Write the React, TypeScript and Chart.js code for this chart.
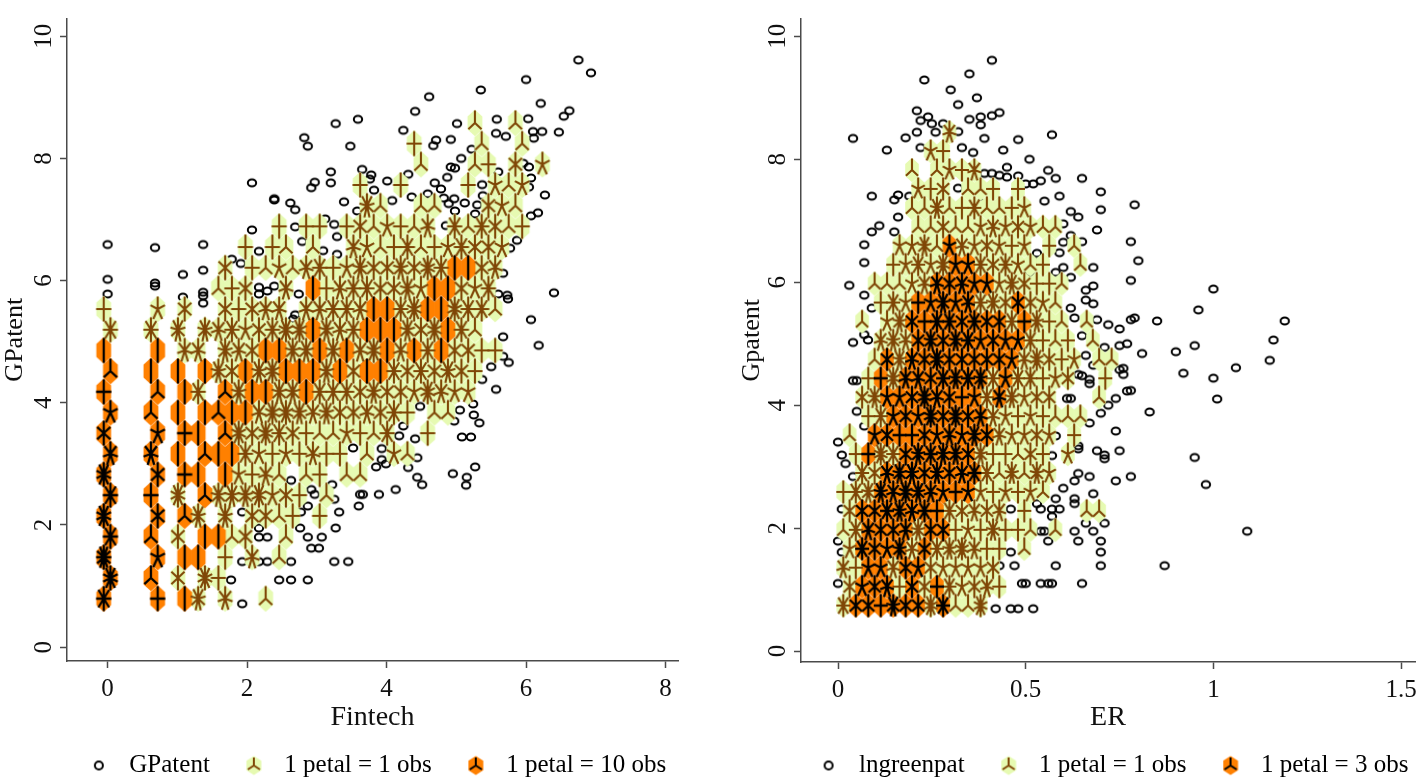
import React, { useEffect, useRef } from "react";
import { Chart, registerables } from "chart.js";

Chart.register(...registerables);

// ---------- left panel data ----------
const leftTitleX = "Fintech";
const leftTitleY = "GPatent";
const leftTicksX = [0, 2, 4, 6, 8];
const leftTicksY = [0, 2, 4, 6, 8, 10];
const leftLegend = ["GPatent", "1 petal = 1 obs", "1 petal = 10 obs"];
// bin grid of the sunflower plot: [x of first even-row cell, x of first odd-row cell, cell step, y of first row, row step]
const leftBins = [-0.056, 0.0401, 0.19355, 0.795, 0.3385];
// one row per bin row: [first cell index, petals per cell...]; negative = dark flower, 0 = no flower
const leftRows = [
  [0, -8, 0, 0, 0, -4, 0, -2, 9, 0, 7, 0, 0, 3],
  [0, -10, 0, 0, -3, 0, 6, 0, 10, 4],
  [0, -12, 0, 0, 0, -5, 0, -2, -2, 0, 4, 0, 7, 0, 3],
  [0, -8, 0, 0, -3, 0, 6, 0, -2, -2, 3, 6, 0, 0, 3],
  [0, -10, 0, 0, 0, -6, 0, -3, 9, 0, 9, 0, 6, 6, 3, 4, 0, 4],
  [0, -8, 0, 0, -4, 0, 10, 0, -3, 9, 9, 9, 10, 5, 6, 4, 0, 3],
  [0, -10, 0, 0, 0, -6, 0, -4, -2, 0, -2, 5, 4, 7, 3, 0, 3, 4, 0, 3, 3],
  [0, -7, 0, 0, -7, 0, -2, 0, -3, -2, -2, 8, 5, 4, 5, 4, 7, 4, 4, 0, 3, 0, 5, 3],
  [0, -6, 0, 0, 0, -5, 0, -4, -2, 0, -3, 10, 6, 10, 8, 6, 4, 3, 3, 5, 4, 3, 8, 0, 0, 4],
  [0, -5, 0, 0, -3, 0, -2, 0, -2, -3, -2, -2, 7, 10, 10, 9, 7, 9, 6, 6, 7, 6, 8, 4, 0, 3, 3],
  [0, -4, 0, 0, 0, -3, 0, -2, 8, 0, -3, 9, -2, -2, 9, 9, -2, 8, 8, 8, 6, 9, 6, 6, 5, 10, 7, 5, 5],
  [0, -3, 0, 0, -2, 0, -2, 0, -2, 9, 6, -2, 9, 10, -2, -2, -2, 9, -2, 6, -2, -2, 8, 6, 8, 6, 9, 6, 4],
  [0, -2, 0, 0, 0, -2, 0, 7, 7, 0, 9, 7, 6, -2, -2, 9, 9, -2, 9, -2, 7, 10, -2, 7, -2, 8, -2, 6, 6, 4, 4],
  [0, 8, 0, 0, 8, 0, 9, 0, 9, 7, 8, 5, 6, 8, 10, 10, -2, 9, 7, 8, -2, -2, -2, 9, 6, 10, -2, 8, 3],
  [0, 4, 0, 0, 0, 5, 0, 6, 0, 0, 6, 4, 6, 7, 7, 0, 7, 7, 8, 8, 7, -2, -2, 8, 10, -2, -2, 10, 8, 8, 3],
  [8, 3, 4, 6, 0, 0, 7, 0, -2, 4, 7, 8, 8, 6, 6, 9, 5, -2, -2, 6, 5, 8],
  [9, 6, 0, 4, 3, 5, 3, 7, 8, 4, 5, 9, 6, 6, 9, 6, 10, 8, -2, -2, 6, 7],
  [10, 4, 0, 4, 3, 0, 3, 0, 0, 7, 5, 3, 4, 8, 3, 4, 5, 8, 6, 6, 5],
  [13, 4, 0, 4, 4, 0, 4, 6, 3, 5, 4, 3, 7, 0, 8, 3, 8, 6, 3, 4],
  [19, 9, 3, 0, 0, 3, 3, 0, 0, 0, 6, 5, 3],
  [19, 4, 0, 0, 4, 0, 0, 0, 0, 4, 0, 5, 3, 5],
  [23, 3, 0, 0, 0, 3, 4, 0, 6, 0, 5],
  [23, 4, 0, 0, 0, 0, 3, 0, 0, 3],
  [27, 3, 0, 0, 3],
];
const leftCircles = [
  [6.75,9.61],[6.93,9.4],[6,9.29],[5.35,9.12],[4.61,9.01],[6.21,8.9],[6.62,8.78],[6.54,8.69],[6.03,8.65],[5.58,8.64],[5.01,8.57],[4.41,8.77],[3.59,8.64],[4.24,8.46],[5.57,8.41],[6.1,8.44],[6.23,8.44],[6.47,8.43],[6.11,8.33],[5.71,8.36],[4.71,8.3],[4.67,8.21],[4.92,8.31],[3.48,8.2],[5.22,8.15],[5.07,8],[4.92,7.86],[4.98,7.84],[5.96,7.92],[6.04,7.86],[3.65,7.82],[3.78,7.73],[3.76,7.66],[4.31,7.74],[4.01,7.63],[4.87,7.69],[4.69,7.6],[4.78,7.5],[3.82,7.48],[5.6,7.78],[5.37,7.57],[6.07,7.68],[6.04,7.53],[3.39,7.29],[4.08,7.31],[4.36,7.37],[4.59,7.42],[4.82,7.35],[4.97,7.34],[4.89,7.26],[4.98,7.14],[5.12,7.27],[5.3,7.24],[5.38,7.39],[5.27,7.09],[6.27,7.4],[6.17,7.11],[6.07,7.06],[3.58,7.14],[4.85,6.9],[5.77,6.53],[5.87,6.66],[5.67,6.12],[5.6,5.78],[5.73,5.76],[5.74,5.7],[6.4,5.8],[6.07,5.36],[5.67,5.08],[6.18,4.94],[5.67,4.76],[5.75,4.66],[5.5,4.59],[5.37,4.38],[5.57,4.22],
  [3.27,8.57],[2.82,8.34],[2.87,8.2],[3.2,7.78],[3.2,7.6],[2.97,7.61],[2.92,7.52],[2.07,7.6],[2.39,7.34],[2.39,7.32],[2.62,7.27],[2.69,7.16],[3.12,7.01],[3.25,6.92],[2.07,6.83],[2.69,6.88],[3.29,6.72],[2.79,6.64],[3.09,6.49],[3.29,6.43],[1.37,6.59],[1.78,6.35],[1.91,6.28],[2.17,6.48],[1.08,6.1],[1.37,6.17],[1.08,5.73],[1.37,5.81],[1.37,5.75],[1.37,5.63],[2.17,5.89],[2.17,5.78],[2.29,5.83],[2.39,5.91],[2.74,5.78],[2.69,5.44],[2.66,5.37],[0,6.59],[0,6.02],[0,5.78],[0.68,6.54],[0.68,5.96],[0.68,5.91],
  [4.48,3.94],[4.24,3.62],[4.18,3.46],[4.41,3.41],[4.44,3.1],[3.93,3.25],[3.93,3.07],[3.99,3],[3.85,2.95],[3.52,3.26],[4.31,2.94],[4.44,2.78],[4.51,2.66],[4.13,2.58],[3.89,2.5],[3.62,2.5],[3.66,2.5],[3.6,2.31],[3.22,2.66],[3.25,2.42],[3.32,2.21],[3.27,1.95],[2.63,2.73],[2.92,2.58],[2.97,2.5],[2.87,2.31],[2.77,2.21],[1.93,2.21],[2.76,1.95],[2.17,1.95],[2.17,1.8],[2.29,1.8],[2.87,1.8],[3.07,1.8],[2.92,1.62],[3.03,1.62],[1.93,1.4],[2.17,1.4],[2.29,1.4],[2.63,1.4],[3.25,1.4],[3.45,1.4],[1.77,1.1],[2.46,1.1],[2.63,1.1],[2.87,1.1],[1.93,0.71],[5.05,3.88],[5.24,3.98],[5.25,3.8],[5.33,3.67],[4.97,3.7],[5.08,3.44],[5.21,3.44],[5.27,2.95],[4.95,2.84],[5.15,2.78],[5.14,2.65],
];

// ---------- right panel data ----------
const rightTitleX = "ER";
const rightTitleY = "Gpatent";
const rightTicksX = [0, 0.5, 1, 1.5];
const rightTicksY = [0, 2, 4, 6, 8, 10];
const rightLegend = ["lngreenpat", "1 petal = 1 obs", "1 petal = 3 obs"];
const rightBins = [0.0141, 0.0309, 0.03323, 0.742, 0.308];
const rightRows = [
  [0, 8, -6, -6, -4, -9, -6, -6, 10, -8, 3, 3, 10],
  [0, 6, -5, -6, -7, 4, -6, 6, -4, 8, 5, 6, 7, 4],
  [0, 7, 4, -5, -5, 7, -6, -5, 6, 5, 5, 5, 5, 6],
  [0, 5, -8, -6, -5, -9, 7, -6, 8, 9, 10, 7, 4, 4, 0, 3],
  [0, 3, 8, -7, -6, -6, -7, 9, -6, -6, 4, 5, 4, 9, 4, 4, 3, 0, 3],
  [0, 6, -6, -6, -8, -9, -7, -8, -4, 8, 6, 7, 6, 7, 0, 4, 0, 0, 0, 0, 3, 3],
  [0, 4, 8, 9, -9, -7, -10, -9, -7, -5, -4, -5, 5, 4, 5, 4, 5, 3],
  [1, 8, 6, -7, -9, -9, -6, -9, -6, -7, -8, 8, 3, 9, 3, 9, 5],
  [1, 4, -4, 10, 8, -6, -9, -8, -9, -9, -6, 9, 4, 4, 3, 6, 4, 0, 5],
  [0, 3, 0, -5, -6, -4, -4, -6, -5, -7, -5, -9, -6, 7, 5, 5, 6, 5, 0, 4],
  [2, 4, 8, -5, -6, -5, -10, -6, -10, -6, -7, 7, 5, 4, 5, 4, 3, 3, 3],
  [1, 6, 9, -5, -5, -6, -10, -7, -6, -4, -5, 8, -7, 9, 5, 6, 6, 0, 0, 0, 3],
  [2, 4, -4, 10, -7, -7, -6, -8, -9, -8, -9, 8, -5, 8, 8, 4, 5, 6, 0, 0, 4],
  [2, 3, -6, 9, -7, -6, -10, -6, -6, -6, -6, -6, -5, 7, 10, 6, 4, 5, 0, 3, 3],
  [3, 7, 9, 7, -6, -9, -6, -9, -8, -5, -6, -5, -5, 8, 4, 3, 4, 0, 3],
  [1, 3, 0, 5, 9, -6, -4, -8, -8, -6, -8, -6, -6, 8, -4, 9, 4, 3, 0, 3],
  [3, 4, 8, 5, -4, -5, -9, -5, -7, 8, 9, 6, -6, 6, 5, 3],
  [2, 3, 3, 3, 5, 7, -7, -6, -7, -5, -5, 5, 9, 6, 4, 4, 3],
  [4, 4, 5, 8, 5, 10, -5, -5, 8, 6, 8, 5, 3, 4, 0, 0, 3],
  [4, 5, 5, 9, 3, -5, 7, 5, 6, 5, 4, 5, 0, 4, 0, 3],
  [6, 3, 3, 6, 3, 3, 5, 7, 5, 6, 5, 3, 3],
  [5, 3, 3, 9, 3, 4, 8, 3, 3, 4, 5],
  [6, 5, 4, 6, 0, 3, 3, 4, 0, 4],
  [5, 3, 0, 3, 5, 4, 7],
  [7, 5, 4],
  [8, 7],
];
const rightCircles = [
  [.41,9.61],[.35,9.39],[.23,9.29],[.3,9.13],[.37,9],[.32,8.89],[.21,8.79],[.43,8.76],[.41,8.71],[.38,8.69],[.35,8.65],[.24,8.69],[.22,8.63],[.25,8.58],[.28,8.58],[.38,8.56],[.32,8.45],[.21,8.44],[.26,8.44],[.18,8.35],[.04,8.34],[.39,8.34],[.48,8.32],[.57,8.4],[.13,8.15],[.22,8.19],[.33,8.19],[.36,8.11],[.44,8.15],[.51,8],[.45,7.87],[.56,7.82],[.39,7.77],[.41,7.77],[.43,7.74],[.45,7.71],[.48,7.73],[.58,7.69],[.65,7.69],[.5,7.6],[.52,7.6],[.54,7.65],[.7,7.47],[.32,7.53],[.09,7.4],[.16,7.42],[.15,7.34],[.19,7.4],[.59,7.4],[.55,7.32],[.7,7.18],[.38,7.29],[.4,7.15],[.62,7.15],[.64,7.06],[.16,7.06],[.11,6.92],[.09,6.82],[.15,6.82],[.69,6.85],[.07,6.61],[.6,6.95],[.65,6.66],[.62,6.76],[.6,6.65],[.07,6.32],[.53,6.47],[.59,6.48],[.52,6.35],[.68,6.24],[.6,6.24],[.51,6.16],[.58,6.16],[.62,6.08],[.03,5.95],[.07,5.79],[.68,5.94],[.66,5.87],[.66,5.71],[.68,5.65],[.62,5.58],[.09,5.58],
  [.96,5.55],[1.19,5.37],[1.16,5.06],[1.15,4.73],[.85,5.37],[.79,5.42],[.78,5.39],[.75,5.24],[.72,5.31],[.69,5.39],[.63,5.42],[.65,5.13],[.77,5],[.75,4.97],[.71,4.94],[.81,4.84],[.9,4.87],[.95,4.97],[.66,4.81],[.68,4.65],[1.06,4.61],[.92,4.52],[1,4.44],[.76,4.6],[.75,4.58],[.76,4.5],[.64,4.5],[.65,4.48],[.67,4.42],[.67,4.35],[1.01,4.1],[.78,4.24],[.77,4.23],[.74,4.11],[.72,4],[.7,3.87],[.83,3.89],[.61,4.11],[.62,4.11],[.67,3.71],[.74,3.58],[.58,3.5],[.64,3.34],[.64,3.29],[.69,3.26],[.71,3.19],[.71,3.13],[.75,3.26],[.95,3.15],[.57,3.18],[.64,2.89],[.67,2.84],[.63,2.77],[.74,2.77],[.78,2.84],[.98,2.71],[.6,2.65],[.68,2.56],[.58,2.48],[.63,2.48],[.63,2.4],[.57,2.31],[.59,2.31],[.66,2.08],[.71,2.08],[.63,1.95],[.68,1.95],[1.09,1.95],[.64,1.79],[.7,1.79],[.7,1.61],[.58,1.39],[.7,1.39],[.87,1.39],[.65,1.1],[.57,1.1],
  [.04,5.02],[.08,5.06],[.07,5.15],[.04,4.4],[.05,4.4],[.05,3.9],[.07,3.66],[0,3.4],[.01,3.19],[.02,3.05],[.04,2.84],[.01,2.31],[0,1.79],[.01,1.61],[0,1.1],[.53,2.4],[.46,2.31],[.54,2.31],[.57,2.19],[.54,1.95],[.55,1.95],[.56,1.79],[.46,1.61],[.43,1.39],[.47,1.39],[.49,1.1],[.5,1.1],[.54,1.1],[.56,1.1],[.42,.69],[.46,.69],[.48,.69],[.52,.69],[1,5.89],[.79,7.26],[.78,6.66],[.8,6.35],[.78,6.03],
];

// ---------- styles ----------
const LIGHT_HEX = "#e6fab2";
const DARK_HEX = "#ff8000";
const LIGHT_PETAL = "#7f4606";
const DARK_PETAL = "#000000";
const FONT = "'Liberation Serif', serif";
const AXIS = "#4a4a4a";

type Flower = { x: number; y: number; p: number };

function expandRows(rows: number[][], bins: number[]) {
  const [x0, x1, dx, y0, dy] = bins;
  const light: Flower[] = [];
  const dark: Flower[] = [];
  rows.forEach((row, r) => {
    const start = row[0];
    row.slice(1).forEach((p, i) => {
      if (!p) return;
      const pt = { x: (r % 2 ? x1 : x0) + (start + i) * dx, y: y0 + r * dy, p: Math.abs(p) };
      (p < 0 ? dark : light).push(pt);
    });
  });
  return { light, dark };
}

function newCanvas(w: number, h: number) {
  const c = document.createElement("canvas");
  c.width = w;
  c.height = h;
  return c;
}

function pathHex(ctx: CanvasRenderingContext2D, cx: number, cy: number, hw: number, hh: number) {
  ctx.beginPath();
  ctx.moveTo(cx, cy - hh);
  ctx.lineTo(cx + hw, cy - hh / 2);
  ctx.lineTo(cx + hw, cy + hh / 2);
  ctx.lineTo(cx, cy + hh);
  ctx.lineTo(cx - hw, cy + hh / 2);
  ctx.lineTo(cx - hw, cy - hh / 2);
  ctx.closePath();
}

function pathPetals(ctx: CanvasRenderingContext2D, cx: number, cy: number, n: number, lx: number, ly: number, color: string, lw: number) {
  ctx.strokeStyle = color;
  ctx.lineWidth = lw;
  ctx.beginPath();
  for (let i = 0; i < n; i++) {
    const a = (2 * Math.PI * i) / n;
    ctx.moveTo(cx, cy);
    ctx.lineTo(cx + lx * Math.sin(a), cy - ly * Math.cos(a));
  }
  ctx.stroke();
}

function hexImage(color: string, hw: number, hh: number) {
  const c = newCanvas(32, 32);
  const ctx = c.getContext("2d")!;
  ctx.fillStyle = color;
  pathHex(ctx, 16, 16, hw, hh);
  ctx.fill();
  return c;
}

function petalImage(n: number, color: string, lw: number, lx: number, ly: number) {
  const c = newCanvas(32, 32);
  pathPetals(c.getContext("2d")!, 16, 16, n, lx, ly, color, lw);
  return c;
}

function circleImage(rx: number, ry: number) {
  const c = newCanvas(14, 12);
  const ctx = c.getContext("2d")!;
  ctx.strokeStyle = "#000";
  ctx.lineWidth = 2;
  ctx.beginPath();
  ctx.ellipse(7, 6, rx, ry, 0, 0, 2 * Math.PI);
  ctx.stroke();
  return c;
}

function legendIcon(kind: "circle" | "light" | "dark") {
  const c = newCanvas(26, 26);
  const ctx = c.getContext("2d")!;
  if (kind === "circle") {
    ctx.strokeStyle = "#000";
    ctx.lineWidth = 2;
    ctx.beginPath();
    ctx.ellipse(8, 13, 4, 4, 0, 0, 2 * Math.PI);
    ctx.stroke();
  } else {
    ctx.fillStyle = kind === "light" ? LIGHT_HEX : DARK_HEX;
    pathHex(ctx, 8, 13, 7.5, 9.5);
    ctx.fill();
    pathPetals(ctx, 8, 13, 3, 7, 8, kind === "light" ? LIGHT_PETAL : DARK_PETAL, 2);
  }
  return c;
}

type PanelProps = {
  rows: number[][];
  bins: number[];
  circles: number[][];
  ticksX: number[];
  ticksY: number[];
  titleX: string;
  titleY: string;
  legend: string[];
  xRange: number[];
  yRange: number[];
  canvasLeft: number;
  canvasWidth: number;
  axisLeft: number;
  padRight: number;
  chartBottomGap: number;
  titleTopPad: number;
  hex: number[];
  petal: number[];
};

function Panel(props: PanelProps) {
  const ref = useRef<HTMLCanvasElement | null>(null);
  useEffect(() => {
    const { light, dark } = expandRows(props.rows, props.bins);
    const [hw, hh, lx, ly] = [props.hex[0], props.hex[1], props.petal[0], props.petal[1]];
    const lightHex = hexImage(LIGHT_HEX, hw, hh);
    const darkHex = hexImage(DARK_HEX, hw, hh);
    const circle = circleImage(4.2, 3.5);
    const cache: Record<string, HTMLCanvasElement> = {};
    const petalsOf = (p: number, isDark: boolean) => {
      const key = `${p}${isDark}`;
      if (!cache[key]) cache[key] = petalImage(p, isDark ? DARK_PETAL : LIGHT_PETAL, isDark ? 2.3 : 2.1, lx, ly);
      return cache[key];
    };
    const base = { showLine: false, pointRadius: 5, pointBorderWidth: 0 };
    const icons = [legendIcon("circle"), legendIcon("light"), legendIcon("dark")];
    const chart = new Chart(ref.current!, {
      type: "scatter",
      data: {
        datasets: [
          { ...base, label: props.legend[2] + " petals", data: dark, pointStyle: (c: any) => petalsOf(c.raw?.p ?? 3, true) },
          { ...base, label: props.legend[1] + " petals", data: light, pointStyle: (c: any) => petalsOf(c.raw?.p ?? 3, false) },
          { ...base, label: props.legend[2], data: dark, pointStyle: darkHex },
          { ...base, label: props.legend[1], data: light, pointStyle: lightHex },
          { ...base, label: props.legend[0], data: props.circles.map(([x, y]) => ({ x, y })), pointStyle: circle },
        ],
      } as any,
      options: {
        animation: false,
        responsive: false,
        devicePixelRatio: 1,
        events: [],
        layout: { autoPadding: false, padding: { top: 13 } },
        plugins: {
          title: { display: false },
          tooltip: { enabled: false },
          legend: {
            display: true,
            position: "bottom",
            labels: {
              usePointStyle: true,
              pointStyleWidth: 26,
              padding: 36,
              color: "#000",
              font: { family: FONT, size: 25 },
              generateLabels: () =>
                props.legend.map((text, i) => ({
                  text,
                  pointStyle: icons[i],
                  fillStyle: "#000",
                  strokeStyle: "#000",
                  lineWidth: 0,
                  hidden: false,
                  datasetIndex: 4 - i,
                  fontColor: "#000",
                })) as any,
            },
          },
        },
        scales: {
          x: {
            type: "linear",
            min: props.xRange[0],
            max: props.xRange[1],
            afterBuildTicks: (s: any) => {
              s.ticks = props.ticksX.map((value) => ({ value }));
            },
            afterFit: (s: any) => {
              s.height = props.chartBottomGap;
            },
            grid: { drawOnChartArea: false, color: AXIS, tickLength: 7, tickWidth: 1.5 },
            border: { color: AXIS, width: 1.5 },
            ticks: { color: "#111", font: { family: FONT, size: 25 }, padding: 6, maxRotation: 0, callback: (v: any) => String(v) },
            title: { display: true, text: props.titleX, color: "#111", font: { family: FONT, size: 28 }, padding: { top: 0, bottom: -17 } },
          },
          y: {
            type: "linear",
            min: props.yRange[0],
            max: props.yRange[1],
            afterBuildTicks: (s: any) => {
              s.ticks = props.ticksY.map((value) => ({ value }));
            },
            afterFit: (s: any) => {
              s.width = props.axisLeft;
            },
            grid: { drawOnChartArea: false, color: AXIS, tickLength: 7, tickWidth: 1.5 },
            border: { color: AXIS, width: 1.5 },
            ticks: { color: "#111", font: { family: FONT, size: 25 }, padding: 3.5, minRotation: 90, maxRotation: 90, crossAlign: "center", callback: (v: any) => String(v) },
            title: { display: true, text: props.titleY, color: "#111", font: { family: FONT, size: 26 }, padding: { top: props.titleTopPad, bottom: 0 } },
          },
          pad: {
            type: "linear",
            position: "right",
            grid: { display: false },
            border: { display: false },
            ticks: { display: false },
            afterFit: (s: any) => {
              s.width = props.padRight;
            },
          },
        },
      } as any,
    });
    return () => chart.destroy();
  }, []);
  return (
    <canvas
      ref={ref}
      width={props.canvasWidth}
      height={788}
      style={{ position: "absolute", left: props.canvasLeft, top: 0, width: props.canvasWidth, height: 788 }}
    />
  );
}

export default function App() {
  return (
    <div style={{ position: "fixed", left: 0, top: 0, width: 1417, height: 784, overflow: "hidden", background: "#fff" }}>
      <Panel
        rows={leftRows}
        bins={leftBins}
        circles={leftCircles}
        ticksX={leftTicksX}
        ticksY={leftTicksY}
        titleX={leftTitleX}
        titleY={leftTitleY}
        legend={leftLegend}
        xRange={[-0.582, 8.178]}
        yRange={[-0.227, 10.29]}
        canvasLeft={0}
        canvasWidth={757}
        axisLeft={67}
        padRight={79}
        chartBottomGap={56}
        titleTopPad={0}
        hex={[7.4, 13.2]}
        petal={[7.6, 12.4]}
      />
      <Panel
        rows={rightRows}
        bins={rightBins}
        circles={rightCircles}
        ticksX={rightTicksX}
        ticksY={rightTicksY}
        titleX={rightTitleX}
        titleY={rightTitleY}
        legend={rightLegend}
        xRange={[-0.0986, 1.537]}
        yRange={[-0.177, 10.29]}
        canvasLeft={725}
        canvasWidth={779}
        axisLeft={76}
        padRight={89}
        chartBottomGap={55}
        titleTopPad={12}
        hex={[6.8, 12.2]}
        petal={[7, 11.5]}
      />
    </div>
  );
}
